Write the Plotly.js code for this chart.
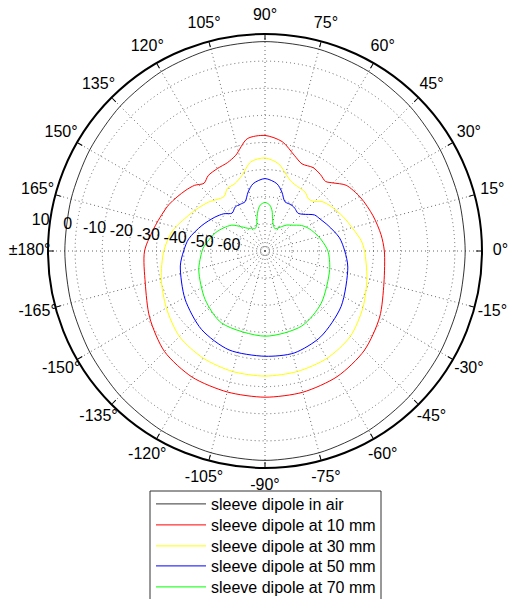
<!DOCTYPE html>
<html>
<head>
<meta charset="utf-8">
<script src="https://cdn.plot.ly/plotly-3.0.1.min.js"></script>
<style>html,body{margin:0;padding:0;background:#fff;}#chart{width:508px;height:599px;}</style>
</head>
<body>
<div id="chart"></div>
<script>
// Series names
var seriesNames = ["sleeve dipole in air", "sleeve dipole at 10 mm", "sleeve dipole at 30 mm", "sleeve dipole at 50 mm", "sleeve dipole at 70 mm"];

// In air (dB)
var airTheta = [0,15,30,45,60,75,90,105,120,135,150,165,180,195,210,225,240,255,270,285,300,315,330,345,360];
var airR     = [3.8,4.0,4.6,5.5,6.4,7.0,7.2,7.0,6.4,5.5,4.6,4.0,3.8,4.0,4.6,5.5,6.4,7.0,7.2,7.0,6.4,5.5,4.6,4.0,3.8];

// 10 mm
var d10Theta = [0,8,18,29,39,45,49,54,60,67,73,81,90,99,107,113,120,127,132,137,143,154,167,180,195,210,225,240,255,270,285,300,315,330,345,360];
var d10R     = [-26.0,-26.8,-28.1,-29.6,-31.5,-34.5,-36.0,-35.2,-34.5,-35.1,-33.1,-29.2,-27.4,-28.1,-33.1,-34.6,-34.9,-35.2,-36.4,-34.5,-33.1,-30.7,-28.5,-25.6,-24.3,-20.9,-17.6,-16.3,-16.2,-16.1,-16.1,-16.6,-18.2,-21.2,-24.6,-26.0];

// 30 mm
var d30Theta = [0,6,14,24,34,41,46,50,56,63,69,74,81,90,99,107,114,121,127,133,139,147,155,168,180,195,210,225,240,255,270,285,300,315,330,345,360];
var d30R     = [-33.3,-34.3,-36.5,-38.6,-40.6,-42.2,-44.5,-45.0,-43.7,-43.4,-42.7,-41.0,-37.5,-35.7,-36.7,-40.9,-42.8,-43.1,-44.9,-44.0,-42.5,-40.8,-38.9,-35.0,-32.7,-30.4,-28.0,-25.4,-24.4,-24.0,-23.9,-24.0,-24.3,-25.5,-28.3,-31.1,-33.3];

// 50 mm
var d50Theta = [0,10,22,30,36,44,49,55,60,68,74,80,90,100,106,112,118,124,131,138,146,158,171,180,190,211,231,250,270,286,303,324,349,360];
var d50R     = [-40.6,-42.1,-44.9,-46.5,-47.4,-50.5,-51.5,-50.8,-50.4,-50.4,-47.4,-44.8,-43.3,-44.8,-47.4,-50.4,-50.5,-50.4,-51.5,-49.5,-47.7,-44.9,-41.5,-40.0,-38.3,-35.6,-32.8,-31.2,-31.2,-30.9,-32.3,-35.3,-38.9,-40.6];

// 70 mm
var d70Theta = [0,11,20,28,35,44,50,56,62,66,72,77,80,84,90,96,100,103,108,114,120,126,134,142,151,160,176,180,196,219,239,270,296,317,344,360];
var d70R     = [-46.8,-48.8,-50.5,-52.0,-53.6,-56.3,-57.5,-59.2,-60.6,-61.0,-60.0,-57.7,-55.0,-53.0,-52.1,-53.0,-55.0,-57.0,-60.0,-61.0,-60.3,-59.7,-57.6,-54.5,-52.5,-50.5,-47.4,-46.8,-44.6,-41.6,-39.0,-38.6,-39.2,-41.7,-45.2,-46.8];

// Tick labels
var angTickVals = [0,15,30,45,60,75,90,105,120,135,150,165,180,195,210,225,240,255,270,285,300,315,330,345];
var angTickText = ["0°","15°","30°","45°","60°","75°","90°","105°","120°","135°","150°","165°","±180°","-165°","-150°","-135°","-120°","-105°","-90°","-75°","-60°","-45°","-30°","-15°"];
var radTickVals = [-60,-50,-40,-30,-20,-10,0,10];
var radTickText = ["-60","-50","-40","-30","-20","-10","0","10"];

var colors = ["#000000", "#ff0000", "#ffff00", "#0000ff", "#00ff00"];
var widths = [0.8, 1, 1, 1, 1];
var thetas = [airTheta, d10Theta, d30Theta, d50Theta, d70Theta];
var rs = [airR, d10R, d30R, d50R, d70R];

var W = 508, H = 599;
var cx = 265, cy = 251, R = 217;      // plot disc
var R2 = 243;                         // invisible outer disc that carries the labels
var rMin = -70, rMax = 10;
var rMax2 = rMin + (rMax - rMin) * R2 / R;   // same dB-per-pixel scale as the plot disc
var angLabelR = 16.8;      // radial position (dB units) of the angle labels, outside the rim
var radLabelAngle = 172.5; // direction along which the dB labels are written
var radLabelShift = 3.4;   // dB labels sit just beyond their ring
var legendIds = ["legend", "legend2", "legend3", "legend4", "legend5"];
var legendRowY = [504, 525, 546, 566, 587];

var traces = [];
for (var i = 0; i < 5; i++) {
  traces.push({
    type: "scatterpolar",
    mode: "lines",
    name: seriesNames[i],
    theta: thetas[i],
    r: rs[i],
    legend: legendIds[i],
    line: {color: colors[i], width: widths[i], shape: "spline", smoothing: 0.8},
    hoverinfo: "skip"
  });
}

// angle labels (centred, like the reference)
traces.push({
  type: "scatterpolar", subplot: "polar2", mode: "text", showlegend: false, hoverinfo: "skip", cliponaxis: false,
  theta: angTickVals,
  r: angTickVals.map(function () { return angLabelR; }),
  text: angTickText,
  textposition: "middle center",
  textfont: {family: "Liberation Sans, Arial, sans-serif", size: 16, color: "#000"}
});
// dB labels
traces.push({
  type: "scatterpolar", subplot: "polar2", mode: "text", showlegend: false, hoverinfo: "skip", cliponaxis: false,
  theta: radTickVals.map(function () { return radLabelAngle; }),
  r: radTickVals.map(function (v) { return v + radLabelShift; }),
  text: radTickText,
  textposition: "middle center",
  textfont: {family: "Liberation Sans, Arial, sans-serif", size: 16, color: "#000"}
});

var layout = {
  width: W, height: H,
  margin: {l: 0, r: 0, t: 0, b: 0, pad: 0, autoexpand: false},
  paper_bgcolor: "#fff",
  font: {family: "Liberation Sans, Arial, sans-serif", size: 16, color: "#000"},
  showlegend: true,
  shapes: [{
    type: "rect", xref: "paper", yref: "paper", layer: "above",
    x0: 150 / W, x1: 381 / W, y0: -0.1, y1: 1 - 491 / H,
    fillcolor: "#fff", line: {color: "#333", width: 1}
  }],
  polar: {
    domain: {x: [(cx - R) / W, (cx + R) / W], y: [1 - (cy + R) / H, 1 - (cy - R) / H]},
    bgcolor: "#fff",
    radialaxis: {
      range: [rMin, rMax],
      tickmode: "array", tickvals: radTickVals, ticktext: radTickText,
      showticklabels: false,
      showline: false, ticks: "",
      showgrid: true, gridcolor: "#666", griddash: "1px,3px", gridwidth: 1
    },
    angularaxis: {
      rotation: 0, direction: "counterclockwise",
      tickmode: "array", tickvals: angTickVals, ticktext: angTickText,
      showticklabels: false,
      showline: true, linecolor: "#000", linewidth: 2,
      ticks: "inside", ticklen: 5, tickcolor: "#000", tickwidth: 1,
      showgrid: true, gridcolor: "#666", griddash: "1px,3px", gridwidth: 1
    }
  },
  polar2: {
    domain: {x: [(cx - R2) / W, Math.min(1, (cx + R2) / W)], y: [1 - (cy + R2) / H, 1 - (cy - R2) / H]},
    bgcolor: "rgba(0,0,0,0)",
    radialaxis: {range: [rMin, rMax2], visible: false, showgrid: false, showline: false, showticklabels: false, ticks: ""},
    angularaxis: {rotation: 0, direction: "counterclockwise", visible: false, showgrid: false, showline: false, showticklabels: false, ticks: ""}
  }
};

for (var j = 0; j < 5; j++) {
  layout[legendIds[j]] = {
    x: 151 / W, y: 1 - legendRowY[j] / H, xanchor: "left", yanchor: "middle",
    bgcolor: "rgba(0,0,0,0)", borderwidth: 0,
    font: {size: 16, color: "#000"},
    itemwidth: 50
  };
}

Plotly.newPlot("chart", traces, layout, {displayModeBar: false, staticPlot: true});
</script>
</body>
</html>
